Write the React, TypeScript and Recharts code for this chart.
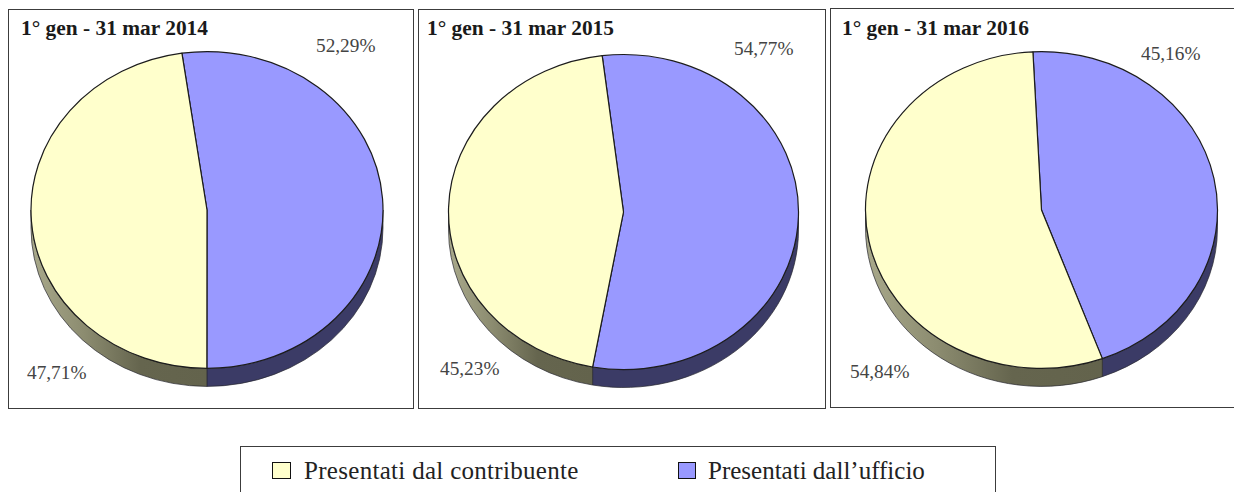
import { Pie, PieChart } from "recharts";

const categories = ["Presentati dall\u2019ufficio", "Presentati dal contribuente"];
const periods = ["1\u00b0 gen - 31 mar 2014", "1\u00b0 gen - 31 mar 2015", "1\u00b0 gen - 31 mar 2016"];
const values2014 = [52.29, 47.71];
const values2015 = [54.77, 45.23];
const values2016 = [45.16, 54.84];
const labels2014 = ["52,29%", "47,71%"];
const labels2015 = ["54,77%", "45,23%"];
const labels2016 = ["45,16%", "54,84%"];

const BLUE = "#9999ff";
const YELLOW = "#ffffcc";
const SERIF = "'Liberation Serif', serif";
const DEPTH = 18;
const SQUASH = 0.9;

function toRows(values: number[]) {
  return values.map((value, i) => ({ name: categories[i], value, fill: i === 0 ? BLUE : YELLOW }));
}

const panels = [
  { title: periods[0], rows: toRows(values2014), labels: labels2014, box: [8, 9, 406, 400], titleX: 21, cx: 207, cy: 210, r: 176, start: 98.2, pos: [[316, 35], [27, 362]] },
  { title: periods[1], rows: toRows(values2015), labels: labels2015, box: [418, 9, 408, 400], titleX: 427, cx: 623.5, cy: 212, r: 175, start: 97, pos: [[734, 38], [440, 358]] },
  { title: periods[2], rows: toRows(values2016), labels: labels2016, box: [830, 7.5, 420, 400.5], titleX: 842, cx: 1041.5, cy: 210, r: 176, start: 92.8, pos: [[1141, 43], [850, 361]] },
];

function pt(cx: number, cy: number, r: number, deg: number) {
  const a = (deg * Math.PI) / 180;
  return [cx + r * Math.cos(a), cy - r * SQUASH * Math.sin(a)];
}

// top face of the tilted pie, an ellipse sector
function TopSlice(props: any) {
  const { cx, cy, outerRadius: r, startAngle, endAngle, fill } = props;
  const [x0, y0] = pt(cx, cy, r, startAngle);
  const [x1, y1] = pt(cx, cy, r, endAngle);
  const large = Math.abs(startAngle - endAngle) > 180 ? 1 : 0;
  const d = `M${cx},${cy}L${x0},${y0}A${r},${r * SQUASH} 0 ${large} 1 ${x1},${y1}Z`;
  return <path d={d} fill={fill} stroke="#1c1c1c" strokeWidth={1.2} strokeLinejoin="round" />;
}

// side wall, only the part of the slice in the lower half can be seen
function RimSlice(props: any) {
  const { cx, cy, outerRadius: r, startAngle, endAngle, index } = props;
  const from = Math.min(startAngle, 0);
  const to = Math.max(endAngle, -180);
  if (from <= to) return null;
  const [x0, y0] = pt(cx, cy, r, from);
  const [x1, y1] = pt(cx, cy, r, to);
  const ry = r * SQUASH;
  const d = `M${x0},${y0}A${r},${ry} 0 0 1 ${x1},${y1}L${x1},${y1 + DEPTH}A${r},${ry} 0 0 0 ${x0},${y0 + DEPTH}Z`;
  return <path d={d} fill={index === 0 ? "#3b3b66" : "url(#rimYellow)"} stroke="#26262e" strokeWidth={0.7} />;
}

export default function App() {
  return (
    <div style={{ position: "absolute", left: 0, top: 0, width: 1234, height: 492, overflow: "hidden", background: "#fff", fontFamily: SERIF }}>
      {panels.map((p) => (
        <div
          key={p.title}
          style={{ position: "absolute", left: p.box[0], top: p.box[1], width: p.box[2], height: p.box[3], boxSizing: "border-box", border: "1.3px solid #3c3c3c" }}
        />
      ))}

      <div style={{ position: "absolute", left: 0, top: 0 }}>
        <PieChart width={1234} height={492} margin={{ top: 0, right: 0, bottom: 0, left: 0 }}>
          <defs>
            <linearGradient id="rimYellow" x1="0" y1="0" x2="1" y2="0">
              <stop offset="0" stopColor="#a9a98b" />
              <stop offset="0.3" stopColor="#8c8c70" />
              <stop offset="0.62" stopColor="#65654e" />
              <stop offset="1" stopColor="#63634c" />
            </linearGradient>
          </defs>
          {panels.map((p) => (
            <Pie
              key={`rim-${p.title}`}
              data={p.rows}
              dataKey="value"
              nameKey="name"
              cx={p.cx}
              cy={p.cy}
              outerRadius={p.r}
              startAngle={p.start}
              endAngle={p.start - 360}
              shape={RimSlice}
              legendType="none"
              isAnimationActive={false}
            />
          ))}
          {panels.map((p) => (
            <Pie
              key={`top-${p.title}`}
              data={p.rows}
              dataKey="value"
              nameKey="name"
              cx={p.cx}
              cy={p.cy}
              outerRadius={p.r}
              startAngle={p.start}
              endAngle={p.start - 360}
              shape={TopSlice}
              legendType="none"
              isAnimationActive={false}
            />
          ))}
        </PieChart>
      </div>

      {panels.map((p) => (
        <div key={`text-${p.title}`}>
          <div style={{ position: "absolute", left: p.titleX, top: 16, fontSize: 21.4, fontWeight: 700, color: "#1a1a1a", whiteSpace: "nowrap" }}>{p.title}</div>
          {p.labels.map((label, i) => (
            <div key={label} style={{ position: "absolute", left: p.pos[i][0], top: p.pos[i][1], fontSize: 19.3, color: "#444", whiteSpace: "nowrap" }}>
              {label}
            </div>
          ))}
        </div>
      ))}

      <div style={{ position: "absolute", left: 240, top: 446, width: 756, height: 60, boxSizing: "border-box", border: "1px solid #3c3c3c" }} />
      <div style={{ position: "absolute", left: 272, top: 462, width: 19, height: 17, boxSizing: "border-box", border: "1.5px solid #111", background: YELLOW }} />
      <div style={{ position: "absolute", left: 304, top: 457, fontSize: 25, letterSpacing: 0.3, color: "#222", whiteSpace: "nowrap" }}>{categories[1]}</div>
      <div style={{ position: "absolute", left: 678, top: 462, width: 18, height: 17, boxSizing: "border-box", border: "1.5px solid #111", background: BLUE }} />
      <div style={{ position: "absolute", left: 708, top: 457, fontSize: 25, color: "#222", whiteSpace: "nowrap" }}>{categories[0]}</div>
    </div>
  );
}
